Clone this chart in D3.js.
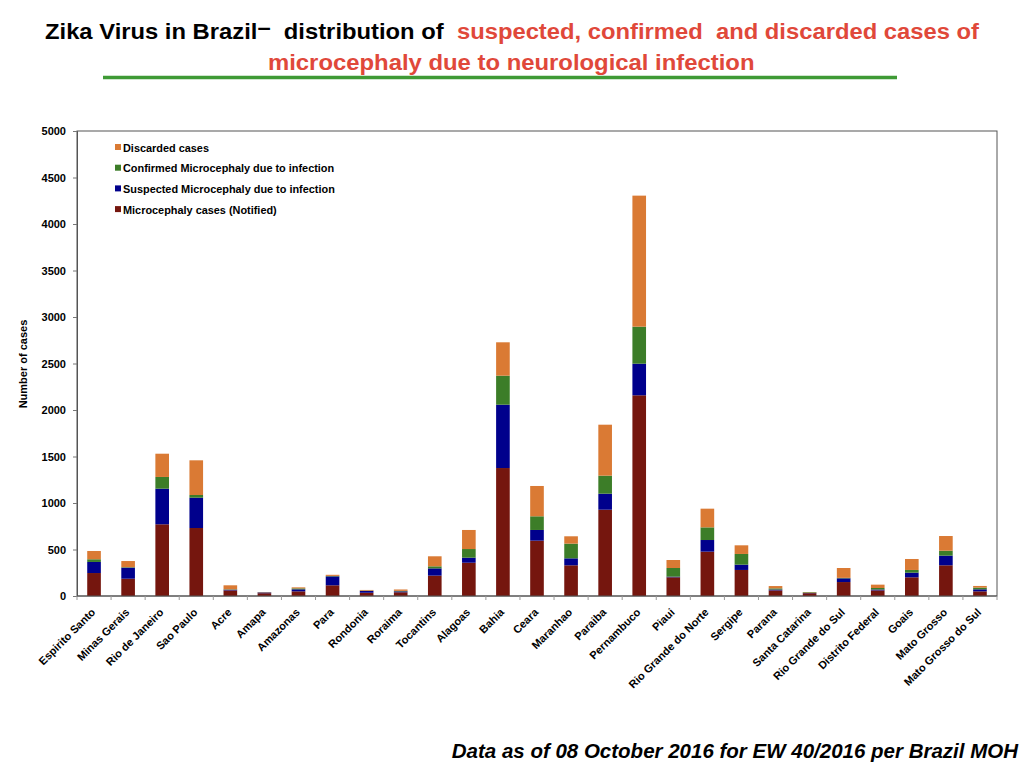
<!DOCTYPE html>
<html><head><meta charset="utf-8">
<script src="https://cdn.jsdelivr.net/npm/d3@7"></script>
<style>
body{margin:0;background:#fff;}
svg{display:block;font-family:"Liberation Sans",Arial,sans-serif;}
</style></head>
<body>
<svg id="c" width="1024" height="768"></svg>
<script>
const states = ["Espirito Santo","Minas Gerais","Rio de Janeiro","Sao Paulo","Acre","Amapa","Amazonas","Para","Rondonia","Roraima","Tocantins","Alagoas","Bahia","Ceara","Maranhao","Paraiba","Pernambuco","Piaui","Rio Grande do Norte","Sergipe","Parana","Santa Catarina","Rio Grande do Sul","Distrito Federal","Goais","Mato Grosso","Mato Grosso do Sul"];
const notified  = [247,186,771,731,60,30,50,115,35,40,219,358,1376,595,330,928,2158,201,477,280,60,30,150,60,201,330,50];
const suspected = [119,119,383,326,8,8,22,96,20,10,78,54,681,115,75,172,340,7,125,57,10,3,40,10,50,104,22];
const confirmed = [29,5,126,29,4,2,10,5,3,5,22,93,312,147,158,194,398,93,136,115,12,7,5,16,29,53,18];
const discarded = [89,66,250,373,43,3,11,12,7,15,108,205,359,326,79,548,1409,86,201,93,25,3,106,36,118,158,18];
const seriesNames = ["Microcephaly cases (Notified)","Suspected Microcephaly due to infection","Confirmed Microcephaly due to infection","Discarded cases"];
const seriesColors = ["#75160e","#00008c","#3c7d28","#da7a34"];
const yTicks = [0,500,1000,1500,2000,2500,3000,3500,4000,4500,5000];

const svg = d3.select("#c");
const m = {l:77, r:997, t:131, b:596};

const rows = states.map((s,i)=>({state:s, a:notified[i], b:suspected[i], c:confirmed[i], d:discarded[i]}));
const keys = ["a","b","c","d"];
const stack = d3.stack().keys(keys)(rows);

const x = d3.scaleBand().domain(states).range([m.l, m.r]).paddingInner(0.6).paddingOuter(0.3);
const y = d3.scaleLinear().domain([0,5000]).range([m.b, m.t]);

// Title
const t1 = svg.append("text").attr("y",39).attr("font-family","'Liberation Sans Narrow','Liberation Sans',Arial,sans-serif")
  .attr("font-weight","bold").attr("font-size",22).style("white-space","pre");
t1.append("tspan").attr("fill","#000").text("Zika Virus in Brazil");
t1.append("tspan").attr("fill","#000").attr("dy",-4).text("–");
t1.append("tspan").attr("fill","#000").attr("dy",4).text("  distribution of  ");
t1.append("tspan").attr("fill","#e0483a").text("suspected, confirmed  and discarded cases of");
{
  const w = t1.node().getBBox().width;
  t1.attr("transform",`translate(45,0) scale(${(980-45)/w},1)`);
}
const t2 = svg.append("text").attr("y",70).attr("font-family","'Liberation Sans Narrow','Liberation Sans',Arial,sans-serif")
  .attr("font-weight","bold").attr("font-size",22).attr("fill","#e0483a").text("microcephaly due to neurological infection");
{
  const w = t2.node().getBBox().width;
  t2.attr("transform",`translate(268,0) scale(${(755-268)/w},1)`);
}
svg.append("line").attr("x1",103).attr("x2",897).attr("y1",77.5).attr("y2",77.5).attr("stroke","#3f9a35").attr("stroke-width",3.5);

// Frame
svg.append("rect").attr("x",m.l).attr("y",m.t).attr("width",m.r-m.l).attr("height",m.b-m.t)
  .attr("fill","none").attr("stroke","#555").attr("stroke-width",1);

// Bars
svg.append("g").selectAll("g").data(stack).join("g")
  .attr("fill",(d,i)=>seriesColors[i])
  .selectAll("rect").data(d=>d).join("rect")
  .attr("x",d=>x(d.data.state)).attr("width",x.bandwidth())
  .attr("y",d=>y(d[1])).attr("height",d=>Math.max(0,y(d[0])-y(d[1])));

// Y axis
const ya = svg.append("g").attr("transform",`translate(${m.l},0)`)
  .call(d3.axisLeft(y).tickValues(yTicks).tickSize(4).tickPadding(7).tickFormat(d3.format("d")));
ya.select(".domain").attr("stroke","#555");
ya.selectAll(".tick line").attr("stroke","#777");
ya.selectAll("text").attr("font-family","'Liberation Sans',Arial,sans-serif").attr("font-weight","bold").attr("font-size",11).attr("fill","#000");

// X axis
const xTickScale = d3.scaleLinear().domain([0,states.length]).range([m.l,m.r]);
const xa = svg.append("g").attr("transform",`translate(0,${m.b})`);
xa.append("line").attr("x1",m.l).attr("x2",m.r).attr("stroke","#555");
xa.selectAll("line.tk").data(d3.range(states.length+1)).join("line").attr("class","tk")
  .attr("x1",d=>xTickScale(d)).attr("x2",d=>xTickScale(d)).attr("y1",0).attr("y2",4).attr("stroke","#999");
xa.selectAll("text").data(states).join("text")
  .attr("text-anchor","end")
  .attr("transform",d=>`translate(${x(d)+x.bandwidth()/2+2},${17}) rotate(-45)`)
  .attr("font-weight","bold").attr("font-size",11).attr("fill","#000")
  .text(d=>d);

// Y label
svg.append("text").attr("transform","translate(27,364) rotate(-90)").attr("text-anchor","middle")
  .attr("font-weight","bold").attr("font-size",11).text("Number of cases");

// Legend
const legOrder = [3,2,1,0];
const lg = svg.append("g").selectAll("g").data(legOrder).join("g")
  .attr("transform",(d,i)=>`translate(115,${148+i*20.7})`);
lg.append("rect").attr("x",0).attr("y",-4).attr("width",6).attr("height",6).attr("fill",d=>seriesColors[d]);
lg.append("text").attr("x",8).attr("y",3.5).attr("font-weight","bold").attr("font-size",10.9).text(d=>seriesNames[d]);

// Footer
svg.append("text").attr("x",1018).attr("y",758).attr("text-anchor","end")
  .attr("font-weight","bold").attr("font-style","italic").attr("font-size",20.5)
  .text("Data as of 08 October 2016 for EW 40/2016 per Brazil MOH");
</script>
</body></html>
